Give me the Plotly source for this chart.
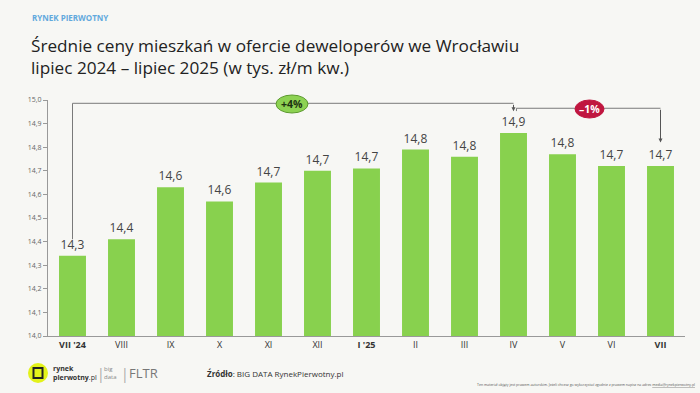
import plotly.graph_objects as go

# ---- data ----
months = ["VII '24", "VIII", "IX", "X", "XI", "XII", "I '25", "II", "III", "IV", "V", "VI", "VII"]
month_ticks = ["<b>VII '24</b>", "VIII", "IX", "X", "XI", "XII", "<b>I '25</b>", "II", "III", "IV", "V", "VI", "<b>VII</b>"]
prices = [14.34, 14.41, 14.63, 14.57, 14.65, 14.70, 14.71, 14.79, 14.76, 14.86, 14.77, 14.72, 14.72]
price_labels = ["14,3", "14,4", "14,6", "14,6", "14,7", "14,7", "14,7", "14,8", "14,8", "14,9", "14,8", "14,7", "14,7"]
y_ticks = [14.0, 14.1, 14.2, 14.3, 14.4, 14.5, 14.6, 14.7, 14.8, 14.9, 15.0]
y_tick_labels = ["14,0", "14,1", "14,2", "14,3", "14,4", "14,5", "14,6", "14,7", "14,8", "14,9", "15,0"]
change_up = "+4%"
change_down = "–1%"

W, H = 700, 393
ML, MR, MT, MB = 48, 15, 100, 57
PW, PH = W - ML - MR, H - MT - MB

def px(x):
    return (x - ML) / PW

def py(y):
    return (H - MB - y) / PH

BG = "#f7f7f4"
GREEN = "#88d14e"
LINE = "#7a7a7a"
FONT = "Open Sans"

fig = go.Figure()
fig.add_trace(go.Bar(
    x=months, y=prices, text=price_labels, textposition="outside",
    marker=dict(color=GREEN, line=dict(width=0)),
    textfont=dict(family=FONT, size=12, color="#444444"),
    cliponaxis=False, hoverinfo="skip",
))

shapes = []
annotations = []

def note(x, y, text, size, color, xanchor="left", align="left"):
    annotations.append(dict(x=px(x), y=py(y), xref="paper", yref="paper", xanchor=xanchor, yanchor="middle",
                            text=text, showarrow=False, align=align,
                            font=dict(family=FONT, size=size, color=color)))

# bracket +4%
y_top1 = 14.986
shapes.append(dict(type="path", xref="x", yref="y",
                   path=f"M 0,14.41 L 0,{y_top1} L 9,{y_top1}",
                   line=dict(color=LINE, width=1)))
annotations.append(dict(x=9, y=14.952, ax=9, ay=y_top1, xref="x", yref="y", axref="x", ayref="y",
                        showarrow=True, arrowhead=2, arrowsize=0.8, arrowwidth=1, arrowcolor="#555555", text=""))
# bracket -1%
y_top2 = 14.965
shapes.append(dict(type="path", xref="x", yref="y",
                   path=f"M 9.06,14.953 L 9.06,{y_top2} L 12,{y_top2}",
                   line=dict(color=LINE, width=1)))
annotations.append(dict(x=12, y=14.82, ax=12, ay=y_top2, xref="x", yref="y", axref="x", ayref="y",
                        showarrow=True, arrowhead=2, arrowsize=0.8, arrowwidth=1, arrowcolor="#555555", text=""))

# pills (paper coords so they are not clipped)
shapes.append(dict(type="circle", xref="paper", yref="paper",
                   x0=px(276), x1=px(308), y0=py(113), y1=py(95),
                   fillcolor="#8dd252", line=dict(color="#5c9a2e", width=1)))
note(292, 104, f"<b>{change_up}</b>", 10.5, "#1e3311", xanchor="center", align="center")
shapes.append(dict(type="circle", xref="paper", yref="paper",
                   x0=px(575), x1=px(604), y0=py(118), y1=py(100),
                   fillcolor="#c0163f", line=dict(color="#c0163f", width=1)))
note(589.5, 109, f"<b>{change_down}</b>", 10.5, "#ffffff", xanchor="center", align="center")

# header
note(30, 17, "<b>RYNEK PIERWOTNY</b>", 8, "#62a9dd")
note(29, 56.5, "Średnie ceny mieszkań w ofercie deweloperów we Wrocławiu<br>lipiec 2024 – lipiec 2025 (w tys. zł/m kw.)",
     17.2, "#222222")

# footer
shapes.append(dict(type="circle", xref="paper", yref="paper", x0=px(28), x1=px(48), y0=py(383), y1=py(363),
                   fillcolor="#e3f21a", line=dict(width=0)))
shapes.append(dict(type="rect", xref="paper", yref="paper", x0=px(33.5), x1=px(42.5), y0=py(378), y1=py(368),
                   fillcolor="rgba(0,0,0,0)", line=dict(color="#222222", width=2)))
note(51, 373, "<b>rynek</b><br><b>pierwotny</b>.pl", 7, "#333333")
note(95, 373, "|", 14, "#aaaaaa")
note(102, 373, "big<br>data", 6, "#888888")
note(119, 373, "|", 14, "#aaaaaa")
note(127, 373, "FLTR", 13, "#777777")
note(205, 373, "<b>Źródło</b>: BIG DATA RynekPierwotny.pl", 8, "#333333")
note(697, 384, "Ten materiał objęty jest prawem autorskim. Jeżeli chcesz go wykorzystać zgodnie z prawem napisz na adres <u>media@rynekpierwotny.pl</u>",
     3.5, "#555555", xanchor="right", align="right")

fig.update_layout(
    width=W, height=H, margin=dict(l=ML, r=MR, t=MT, b=MB),
    paper_bgcolor=BG, plot_bgcolor=BG, showlegend=False, bargap=0.45,
    shapes=shapes, annotations=annotations,
    xaxis=dict(tickvals=months, ticktext=month_ticks, showline=True, linecolor="#999999", linewidth=1,
               ticks="", tickfont=dict(family=FONT, size=9, color="#333333"), showgrid=False, zeroline=False,
               fixedrange=True),
    yaxis=dict(range=[14.0, 15.0], tickvals=y_ticks, ticktext=y_tick_labels, showline=True,
               linecolor="#999999", linewidth=1, ticks="outside", ticklen=4, tickcolor="#999999",
               tickfont=dict(family=FONT, size=7, color="#666666"), showgrid=False, zeroline=False,
               fixedrange=True),
)

fig.write_html("out.html", config={"displayModeBar": False},
               post_script="document.body.style.margin='0';document.body.style.background='" + BG + "';")
